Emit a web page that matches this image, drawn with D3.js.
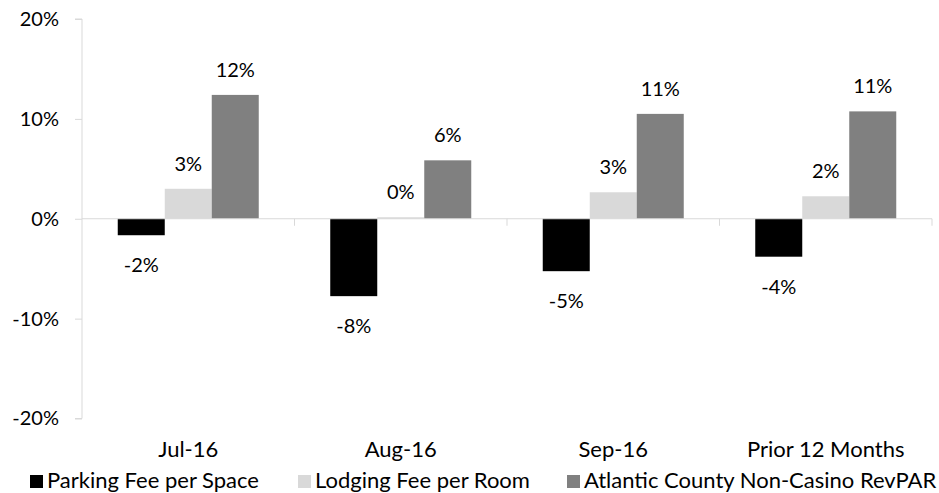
<!DOCTYPE html>
<html><head><meta charset="utf-8">
<script src="https://cdn.jsdelivr.net/npm/d3@7"></script>
<style>body{margin:0;background:#fff}svg{display:block;font-family:Lato,"Open Sans",sans-serif}</style>
</head><body><svg id="c" width="939" height="493"></svg>
<script>
const categories = ["Jul-16", "Aug-16", "Sep-16", "Prior 12 Months"];
const seriesNames = ["Parking Fee per Space", "Lodging Fee per Room", "Atlantic County Non-Casino RevPAR"];
const parking = [-1.65, -7.75, -5.25, -3.8];
const lodging = [3.0, 0.15, 2.65, 2.25];
const revpar = [12.4, 5.85, 10.5, 10.75];
const parkingLabels = ["-2%", "-8%", "-5%", "-4%"];
const lodgingLabels = ["3%", "0%", "3%", "2%"];
const revparLabels = ["12%", "6%", "11%", "11%"];
const yTicks = [-20, -10, 0, 10, 20];
const colors = ["#000000", "#d9d9d9", "#808080"];

(function () {
const series = [parking, lodging, revpar];
const labels = [parkingLabels, lodgingLabels, revparLabels];
const svg = d3.select("#c");
const mLeft = 82, mRight = 932, mTop = 19, mBottom = 418.5;
const x = d3.scaleBand().domain(categories).range([mLeft, mRight]).paddingInner(0).paddingOuter(0);
const inner = d3.scaleBand().domain(d3.range(3)).range([0, x.bandwidth()]).paddingInner(0)
  .paddingOuter((x.bandwidth() - 141) / 2 / 47);
const y = d3.scaleLinear().domain([-20, 20]).range([mBottom, mTop]);
const fs = 20, fsCat = 22;

// y axis
const ya = svg.append("g").attr("transform", `translate(${mLeft},0)`)
  .call(d3.axisLeft(y).tickValues(yTicks).tickSize(7).tickPadding(16).tickFormat(d => d + "%"));
ya.select(".domain").attr("stroke", "#d9d9d9").attr("d", `M-7,${y(20)}H0V${y(-20)}H-7`);
ya.selectAll(".tick line").attr("stroke", "#d9d9d9");
ya.selectAll(".tick text").attr("font-size", fs).attr("fill", "#000").attr("font-family", "Lato");

// bars
categories.forEach((c, i) => {
  series.forEach((s, j) => {
    const v = s[i];
    const bx = x(c) + inner(j);
    svg.append("rect").attr("x", bx).attr("width", inner.bandwidth())
      .attr("y", y(Math.max(0, v))).attr("height", Math.abs(y(v) - y(0)))
      .attr("fill", colors[j]);
    const cy = v >= 0 ? y(v) - 25 : y(v) + 30;
    svg.append("text").attr("x", bx + inner.bandwidth() / 2).attr("y", cy)
      .attr("dy", "0.35em").attr("text-anchor", "middle").attr("font-size", fs)
      .attr("fill", "#000").text(labels[j][i]);
  });
});

// x axis at zero
const xa = svg.append("g").attr("transform", `translate(0,${y(0)})`);
xa.append("line").attr("x1", mLeft).attr("x2", mRight).attr("stroke", "#d9d9d9").attr("stroke-width", 1);
const bounds = categories.map(c => x(c)).concat([mRight]);
bounds.slice(1).forEach(b => xa.append("line").attr("x1", b).attr("x2", b).attr("y1", 0).attr("y2", 7).attr("stroke", "#d9d9d9"));

// category labels
svg.append("g").selectAll("text").data(categories).join("text")
  .attr("x", d => x(d) + x.bandwidth() / 2).attr("y", 457)
  .attr("text-anchor", "middle").attr("font-size", fsCat).attr("fill", "#000").text(d => d);

// legend
const legTextX = [47, 315, 584];
seriesNames.forEach((n, j) => {
  svg.append("rect").attr("x", legTextX[j] - 17).attr("y", 475).attr("width", 13).attr("height", 13).attr("fill", colors[j]);
  svg.append("text").attr("x", legTextX[j]).attr("y", 488).attr("font-size", fsCat).attr("fill", "#000").text(n);
});
})();
</script></body></html>
